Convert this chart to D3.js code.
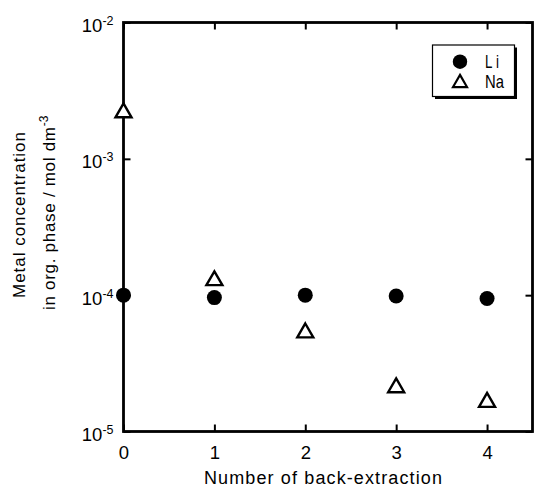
<!DOCTYPE html>
<html>
<head>
<meta charset="utf-8">
<script src="https://cdn.jsdelivr.net/npm/d3@7"></script>
<style>
  body { margin: 0; background: #fff; }
  text { font-family: "Liberation Sans", Arial, sans-serif; fill: #000; }
</style>
</head>
<body>
<div id="chart"></div>
<script>
const width = 534;
const height = 486;
const margin = { top: 22.5, right: 1.5, bottom: 54.5, left: 123.5 };

// Data
const steps = [0, 1, 2, 3, 4];
const li = [1.0e-4, 9.6e-5, 1.0e-4, 9.85e-5, 9.45e-5];
const na = [2.18e-3, 1.28e-4, 5.3e-5, 2.1e-5, 1.64e-5];
const xTicks = [0, 1, 2, 3, 4];
const yTicks = [1e-5, 1e-4, 1e-3, 1e-2];
const seriesNames = ["Li", "Na"];

const svg = d3.select("#chart")
    .append("svg")
    .attr("width", width)
    .attr("height", height);

// Scales
const x = d3.scaleLinear()
    .domain([0, 4.5])
    .range([margin.left, width - margin.right]);

const y = d3.scaleLog()
    .domain([1e-5, 1e-2])
    .range([height - margin.bottom, margin.top]);

// ----- Axes (ticks point inward) -----
const gX = svg.append("g")
    .attr("transform", `translate(0, ${height - margin.bottom})`)
    .call(d3.axisBottom(x).tickValues(xTicks).tickSize(-7).tickFormat(d3.format("d")));

svg.append("g")
    .attr("transform", `translate(0, ${margin.top})`)
    .call(d3.axisTop(x).tickValues(xTicks).tickSize(-7).tickFormat(""));

const gY = svg.append("g")
    .attr("transform", `translate(${margin.left}, 0)`)
    .call(d3.axisLeft(y).tickValues(yTicks).tickSize(-7).tickFormat(""));

svg.append("g")
    .attr("transform", `translate(${width - margin.right}, 0)`)
    .call(d3.axisRight(y).tickValues(yTicks).tickSize(-7).tickFormat(""));

svg.selectAll(".domain").remove();
svg.selectAll(".tick line").attr("stroke", "#000").attr("stroke-width", 2);

gX.selectAll(".tick text")
    .attr("y", 27)
    .attr("dy", 0)
    .attr("font-size", 18.5)
    .attr("font-family", "Liberation Sans, Arial, sans-serif");

// Log tick labels as 10 with superscript exponent
gY.selectAll(".tick").each(function(d) {
    const t = d3.select(this).select("text")
        .attr("x", -10)
        .attr("dy", 9)
        .attr("font-size", 18.5)
        .attr("text-anchor", "end")
        .attr("font-family", "Liberation Sans, Arial, sans-serif");
    t.append("tspan").text("10");
    t.append("tspan").attr("dy", -7).attr("font-size", 12.5).text(Math.round(Math.log10(d)));
});

// Frame
svg.append("rect")
    .attr("x", margin.left)
    .attr("y", margin.top)
    .attr("width", width - margin.left - margin.right)
    .attr("height", height - margin.top - margin.bottom)
    .attr("fill", "none")
    .attr("stroke", "#000")
    .attr("stroke-width", 2.8);

// Axis labels
svg.append("text")
    .attr("x", 204)
    .attr("y", 483.5)
    .attr("font-size", 18)
    .attr("textLength", 238)
    .attr("lengthAdjust", "spacing")
    .text("Number of back-extraction");

const yLabel = svg.append("g").attr("transform", "rotate(-90)");
yLabel.append("text")
    .attr("x", -298).attr("y", 25)
    .attr("font-size", 17)
    .attr("textLength", 166)
    .attr("lengthAdjust", "spacing")
    .text("Metal concentration");
const l2 = yLabel.append("text")
    .attr("x", -310).attr("y", 55)
    .attr("font-size", 17);
l2.append("tspan")
    .attr("textLength", 183)
    .attr("lengthAdjust", "spacing")
    .text("in org. phase / mol dm");
l2.append("tspan").attr("dy", -7).attr("font-size", 12).text("-3");

// ----- Points -----
const tri = s => {
    const h = s * Math.sqrt(3) / 2;
    return `M0,${-2 * h / 3}L${s / 2},${h / 3}L${-s / 2},${h / 3}Z`;
};

svg.append("g")
    .selectAll("circle")
    .data(steps)
    .enter()
    .append("circle")
    .attr("cx", d => x(d))
    .attr("cy", (d, i) => y(li[i]))
    .attr("r", 7.5)
    .attr("fill", "#000");

svg.append("g")
    .selectAll("path")
    .data(steps)
    .enter()
    .append("path")
    .attr("d", tri(16))
    .attr("transform", (d, i) => `translate(${x(d)}, ${y(na[i])})`)
    .attr("fill", "#fff")
    .attr("stroke", "#000")
    .attr("stroke-width", 2.4)
    .attr("stroke-linejoin", "miter");

// ----- Legend -----
const lg = svg.append("g").attr("transform", "translate(432.5, 45)");
lg.append("rect")
    .attr("x", 2.5).attr("y", 2.5).attr("width", 82).attr("height", 51.5)
    .attr("fill", "#000");
lg.append("rect")
    .attr("x", 0).attr("y", 0).attr("width", 82).attr("height", 51.5)
    .attr("fill", "#fff").attr("stroke", "#000").attr("stroke-width", 1.2);
lg.append("circle").attr("cx", 27.5).attr("cy", 16.7).attr("r", 7.2).attr("fill", "#000");
lg.append("path").attr("d", tri(14)).attr("transform", "translate(27.5, 38)")
    .attr("fill", "#fff").attr("stroke", "#000").attr("stroke-width", 2.2);

// narrow legend font: squeeze horizontally, Li letter-spaced
const legScale = [0.72, 0.8];
const legWidth = [14, 19];
lg.selectAll("text.leg")
    .data(seriesNames)
    .enter()
    .append("text")
    .attr("class", "leg")
    .attr("transform", (d, i) => `translate(52.5, ${23.3 + i * 19.7}) scale(${legScale[i]}, 1)`)
    .attr("font-size", 18.5)
    .attr("textLength", (d, i) => legWidth[i] / legScale[i])
    .attr("lengthAdjust", "spacing")
    .text(d => d);
</script>
</body>
</html>
